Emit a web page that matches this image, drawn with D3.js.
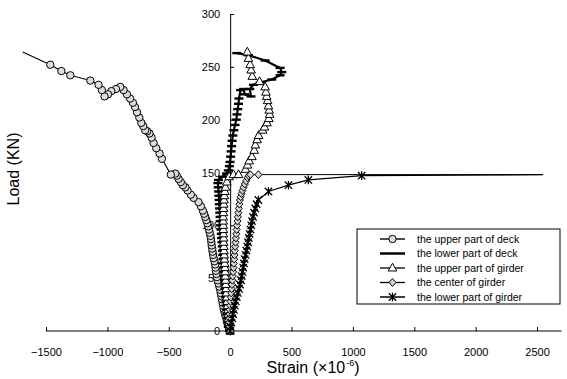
<!DOCTYPE html>
<html>
<head>
<meta charset="utf-8">
<script src="https://cdn.jsdelivr.net/npm/d3@7"></script>
<style>
  body { margin: 0; background: #fff; }
  svg { display: block; }
  text { font-family: "Liberation Sans", Arial, Helvetica, sans-serif; fill: #000; }
</style>
</head>
<body>
<svg id="chart" width="567" height="379"></svg>
<script>
// Axis ticks
const strainTicks = [-1500, -1000, -500, 0, 500, 1000, 1500, 2000, 2500];
const loadTicks = [0, 50, 100, 150, 200, 250, 300];

// Measured strain (x10^-6) vs load (kN), as [strain, load]
const deckUpper = [
  [0,0],[-10,3],[-18,6],[-25,9],[-32,12],[-40,15],[-46,18],[-52,21],[-57,24],[-62,27],
  [-67,30],[-72,33],[-77,36],[-81,39],[-88,42],[-95,45],[-102,48],[-108,51],[-112,54],[-116,57],
  [-119,60],[-122,63],[-128,66],[-134,69],[-139,72],[-143,75],[-146,78],[-150,81],[-153,84],[-156,87],
  [-160,90],[-166,93],[-172,96],[-178,99],[-186,102],[-194,105],[-203,108],[-212,111],[-222,114],[-238,118],
  [-258,122],[-298,126],[-320,129],[-347,133],[-365,136],[-385,138],[-402,141],[-420,144],[-435,147],[-447,149],
  [-483,148],[-556,163],[-575,168],[-602,173],[-624,178],[-640,183],[-657,187],[-675,189],[-692,190],[-708,194],
  [-724,197],[-740,202],[-759,207],[-775,212],[-792,216],[-815,220],[-841,224],[-868,228],[-895,231],[-930,229],
  [-968,227],[-995,224],[-1023,222],[-1045,228],[-1072,233],[-1139,237],[-1302,242],[-1375,246],[-1465,252],[-1690,264]
];
const deckLower = [
  [-5,0],[-15,4],[-20,8],[-22,12],[-26,16],[-29,20],[-32,24],[-34,28],[-37,32],[-39,36],
  [-42,40],[-44,44],[-46,48],[-48,52],[-50,56],[-52,60],[-55,64],[-58,68],[-60,72],[-62,76],
  [-64,80],[-67,84],[-70,88],[-72,92],[-75,96],[-78,100],[-80,104],[-82,108],[-84,112],[-86,116],
  [-88,120],[-90,124],[-92,128],[-94,132],[-97,136],[-100,140],[-95,143],[-62,146],[-30,149],[-15,152],
  [-6,156],[-1,160],[4,165],[8,170],[12,175],[16,180],[22,185],[30,190],[40,195],[50,200],
  [56,205],[62,210],[68,215],[72,220],[85,228],[110,229],[118,224],[170,222],[160,229],[190,233],
  [244,235],[339,238],[407,242],[420,245],[407,249],[285,256],[149,261],[54,263]
];
const girderUpper = [
  [0,0],[-4,4],[-8,8],[-12,12],[-15,16],[-18,20],[-21,24],[-24,28],[-27,32],[-30,36],
  [-32,40],[-35,44],[-37,48],[-39,52],[-40,56],[-42,60],[-44,64],[-46,68],[-48,72],[-50,76],
  [-51,80],[-52,84],[-53,88],[-54,92],[-55,96],[-56,100],[-56,104],[-56,108],[-55,112],[-54,116],
  [-52,120],[-50,124],[-47,128],[-43,132],[-38,136],[-27,141],[-8,146],[27,148],[68,148],[125,153],
  [142,157],[155,161],[177,165],[196,171],[205,176],[220,181],[232,185],[265,190],[280,193],[300,197],
  [315,201],[322,205],[318,209],[312,213],[305,218],[298,222],[292,226],[285,231],[240,236],[180,241],
  [171,247],[163,252],[149,258],[140,264]
];
const girderCenter = [
  [0,0],[-6,4],[-6,8],[-5,12],[-4,16],[-3,20],[0,24],[3,28],[6,32],[9,36],
  [12,40],[15,44],[18,48],[21,52],[24,56],[27,60],[30,64],[33,68],[36,72],[38,76],
  [41,80],[44,84],[47,88],[50,92],[53,96],[56,100],[60,104],[63,108],[67,112],[71,116],
  [75,120],[80,124],[86,127],[93,130],[101,133],[110,136],[120,139],[130,142],[142,145],[152,147],
  [165,148],[230,148],[2530,148]
];
const girderLower = [
  [0,0],[2,4],[10,8],[18,12],[24,16],[30,20],[38,24],[46,28],[54,32],[62,36],
  [72,40],[80,44],[88,48],[94,52],[100,56],[106,60],[112,64],[118,68],[126,72],[132,76],
  [140,80],[146,84],[152,88],[158,92],[166,96],[172,100],[178,104],[186,108],[195,112],[205,116],
  [216,120],[230,124],[312,132],[475,138],[637,143],[1071,147],[2550,148]
];

const seriesNames = [
  "the upper part of deck",
  "the lower part of deck",
  "the upper part of girder",
  "the center of girder",
  "the lower part of girder"
];

const svg = d3.select("#chart");

const x = d3.scaleLinear().domain([-1500, 2700]).range([46, 561.6]);
const y = d3.scaleLinear().domain([0, 300]).range([331, 14]);

// Marker painters, centred on (0,0)
const markers = {
  circle: g => g.append("circle").attr("r", 3.7)
    .attr("fill", "#dcdcdc").attr("stroke", "#000").attr("stroke-width", 1),
  dash: g => g.append("line").attr("x1", -4.5).attr("x2", 4.5)
    .attr("stroke", "#000").attr("stroke-width", 2.4),
  triangle: g => g.append("path").attr("d", "M0,-4.8L4.3,3L-4.3,3Z")
    .attr("fill", "#fff").attr("stroke", "#000").attr("stroke-width", 1),
  diamond: g => g.append("path").attr("d", "M0,-3.9L3.5,0L0,3.9L-3.5,0Z")
    .attr("fill", "#d6d6d6").attr("stroke", "#000").attr("stroke-width", 1),
  star: g => g.append("path").attr("d", "M0,-4.3V4.3M-3.7,-3.7L3.7,3.7M-3.7,3.7L3.7,-3.7")
    .attr("fill", "none").attr("stroke", "#000").attr("stroke-width", 1.3)
};

const series = [
  { name: seriesNames[0], data: deckUpper,    marker: "circle",   width: 1.1, bareEnd: true  },
  { name: seriesNames[1], data: deckLower,    marker: "dash",     width: 2.2, bareEnd: false },
  { name: seriesNames[2], data: girderUpper,  marker: "triangle", width: 1.0, bareEnd: false },
  { name: seriesNames[3], data: girderCenter, marker: "diamond",  width: 1.0, bareEnd: true  },
  { name: seriesNames[4], data: girderLower,  marker: "star",     width: 1.2, bareEnd: true  }
];

// Axes: x axis along load = 0, y axis through strain = 0
const fmt = d3.format("d");
const xAxis = svg.append("g")
  .attr("transform", `translate(0,${y(0)})`)
  .call(d3.axisBottom(x).tickValues(strainTicks).tickFormat(fmt)
    .tickSize(-4).tickSizeOuter(0).tickPadding(17));
const yAxis = svg.append("g")
  .attr("transform", `translate(${x(0)},0)`)
  .call(d3.axisLeft(y).tickValues(loadTicks).tickFormat(fmt)
    .tickSize(-4).tickSizeOuter(0).tickPadding(10));

[xAxis, yAxis].forEach(a => {
  a.selectAll("text").attr("font-size", 11).attr("font-family", null);
  a.selectAll("path, line").attr("stroke", "#000").attr("stroke-width", 1);
});
xAxis.select(".domain").attr("d", `M${x(-1500)},0H${x(2700)}`);

// Curves
const line = d3.line().x(d => x(d[0])).y(d => y(d[1]));
const plot = svg.append("g");
series.forEach(s => {
  const g = plot.append("g");
  g.append("path").datum(s.data).attr("d", line)
    .attr("fill", "none").attr("stroke", "#000")
    .attr("stroke-width", s.width).attr("stroke-linejoin", "round");
  const pts = s.bareEnd ? s.data.slice(0, -1) : s.data;
  pts.forEach(d => {
    const m = g.append("g").attr("transform", `translate(${x(d[0])},${y(d[1])})`);
    markers[s.marker](m);
  });
});

// Axis titles
svg.append("text")
  .attr("transform", "translate(19,169) rotate(-90)")
  .attr("text-anchor", "middle").attr("font-size", 16)
  .text("Load (KN)");

const xt = svg.append("text")
  .attr("x", 313).attr("y", 373)
  .attr("text-anchor", "middle").attr("font-size", 16);
xt.append("tspan").text("Strain (\u00d710");
xt.append("tspan").attr("dy", -7).attr("dx", 1).attr("font-size", 9).text("-6");
xt.append("tspan").attr("dy", 7).text(")");

// Legend
const lg = svg.append("g");
lg.append("rect")
  .attr("x", 357).attr("y", 229).attr("width", 203).attr("height", 75)
  .attr("fill", "#fff").attr("stroke", "#000").attr("stroke-width", 1);
series.forEach((s, i) => {
  const ry = 239 + i * 14.5;
  lg.append("line").attr("x1", 380).attr("x2", 405).attr("y1", ry).attr("y2", ry)
    .attr("stroke", "#000").attr("stroke-width", s.width + 0.3);
  if (s.marker !== "dash") {
    const m = lg.append("g").attr("transform", `translate(392.5,${ry})`);
    markers[s.marker](m);
  }
  lg.append("text").attr("x", 417).attr("y", ry).attr("dy", "0.35em")
    .attr("font-size", 10.5).text(s.name);
});
</script>
</body>
</html>
